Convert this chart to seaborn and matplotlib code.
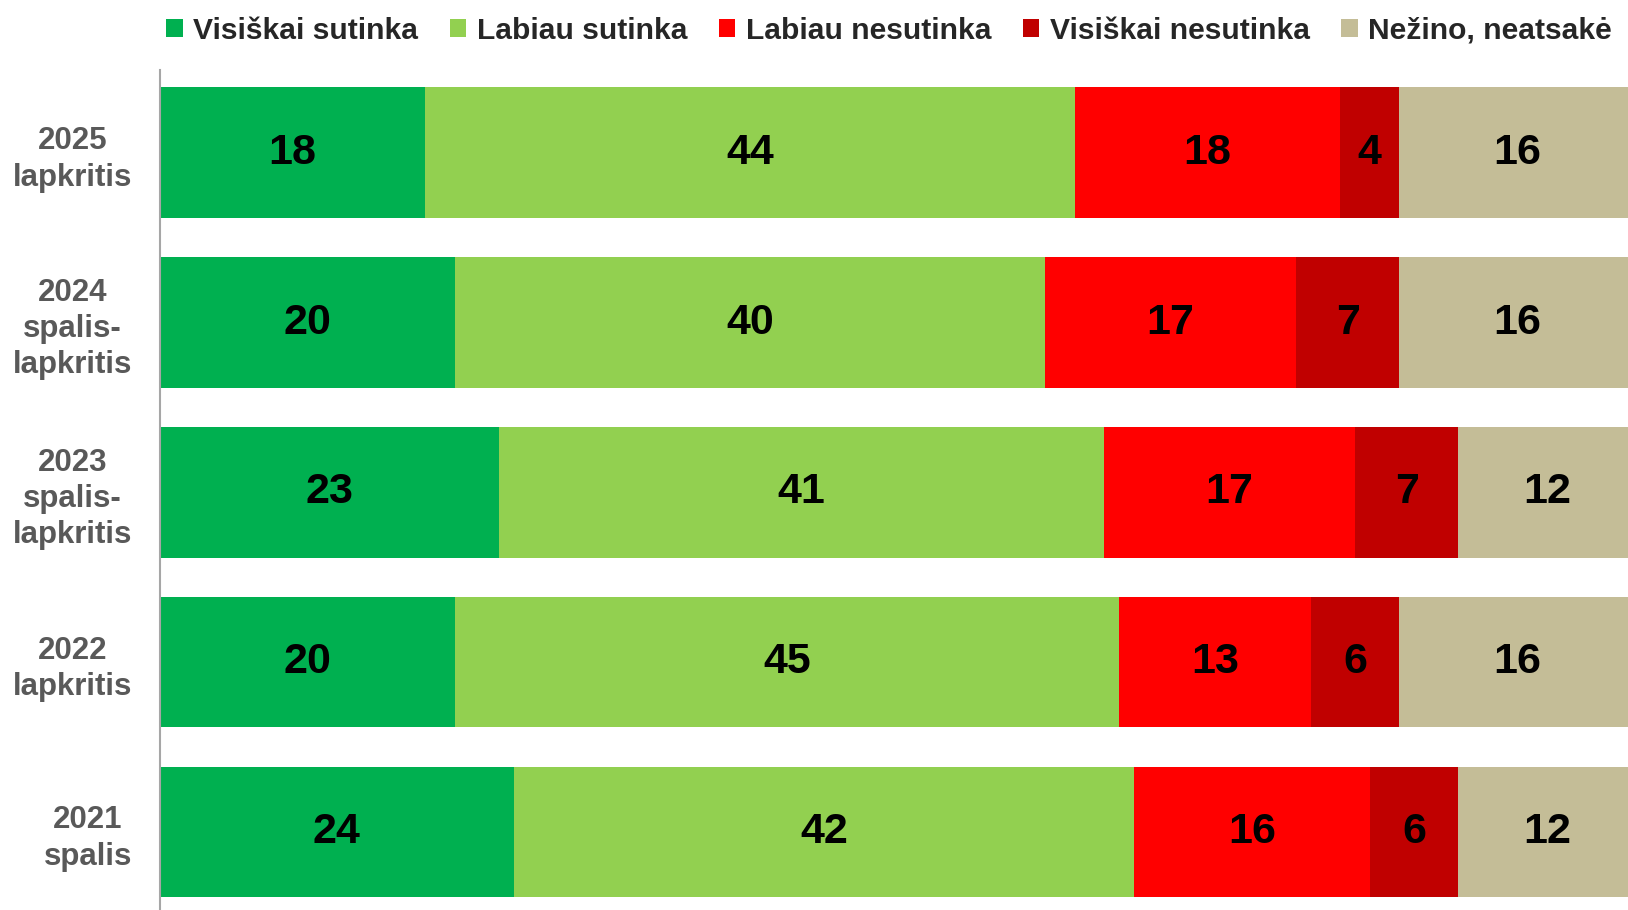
import matplotlib
matplotlib.use("Agg")
import matplotlib.pyplot as plt
from matplotlib import font_manager
from matplotlib.patches import Patch
import seaborn as sns
import pandas as pd
import numpy as np

categories = ["2025\nlapkritis", "2024\nspalis-\nlapkritis", "2023\nspalis-\nlapkritis",
              "2022\nlapkritis", "2021\nspalis"]
series_names = ["Visiškai sutinka", "Labiau sutinka", "Labiau nesutinka",
                "Visiškai nesutinka", "Nežino, neatsakė"]
visiskai_sutinka = [18, 20, 23, 20, 24]
labiau_sutinka = [44, 40, 41, 45, 42]
labiau_nesutinka = [18, 17, 17, 13, 16]
visiskai_nesutinka = [4, 7, 7, 6, 6]
nezino = [16, 16, 12, 16, 12]
colors = ["#00B050", "#92D050", "#FF0000", "#C00000", "#C4BD97"]

values = [visiskai_sutinka, labiau_sutinka, labiau_nesutinka, visiskai_nesutinka, nezino]

sns.set_theme(style="white")
avail = {f.name for f in font_manager.fontManager.ttflist}
narrow = "Liberation Sans Narrow" in avail
fam = ["Liberation Sans Narrow", "DejaVu Sans"] if narrow else ["Liberation Sans", "DejaVu Sans"]
plt.rcParams["font.family"] = fam

if narrow:
    val_fs, tick_fs, leg_fs = 36, 27, 26
else:
    val_fs, tick_fs, leg_fs = 31, 22.5, 21.6

fig = plt.figure(figsize=(16.28, 9.10), dpi=100)
ax = fig.add_axes([0.0982, 0.0, 0.9018, 0.9235])

df = pd.DataFrame({"cat": categories})
cum = np.zeros(len(categories))
cums = []
for v in values:
    cum = cum + np.array(v)
    cums.append(cum.copy())
for i in range(len(values) - 1, -1, -1):
    df["x"] = cums[i]
    sns.barplot(data=df, x="x", y="cat", color=colors[i], orient="h",
                width=0.77, saturation=1, ax=ax, linewidth=0)

for i, v in enumerate(values):
    starts = cums[i] - np.array(v)
    for j, val in enumerate(v):
        ax.text(starts[j] + val / 2, j, str(val), ha="center", va="center",
                fontsize=val_fs, fontweight="bold", color="black")

ax.set_xlim(0, 99.5)
ax.set_ylim(4.46, -0.49)
ax.set_xlabel("")
ax.set_ylabel("")
ax.set_xticks([])
for s in ["top", "right", "bottom"]:
    ax.spines[s].set_visible(False)
ax.spines["left"].set_color("#A6A6A6")
ax.spines["left"].set_linewidth(1.5)
ax.tick_params(axis="y", length=0, pad=20)
for lbl in ax.get_yticklabels():
    lbl.set_fontsize(tick_fs)
    lbl.set_fontweight("bold")
    lbl.set_color("#595959")
    lbl.set_multialignment("center")
    lbl.set_linespacing(1.27)

handles = [Patch(facecolor=c, edgecolor="none") for c in colors]
leg = fig.legend(handles, series_names, loc="center left",
                 bbox_to_anchor=(0.102, 0.966), ncol=5, frameon=False,
                 prop={"weight": "bold", "size": leg_fs},
                 handlelength=0.55, handleheight=0.55, handletextpad=0.35,
                 columnspacing=1.05, borderaxespad=0, borderpad=0)

fig.savefig("out.png", dpi=100)
